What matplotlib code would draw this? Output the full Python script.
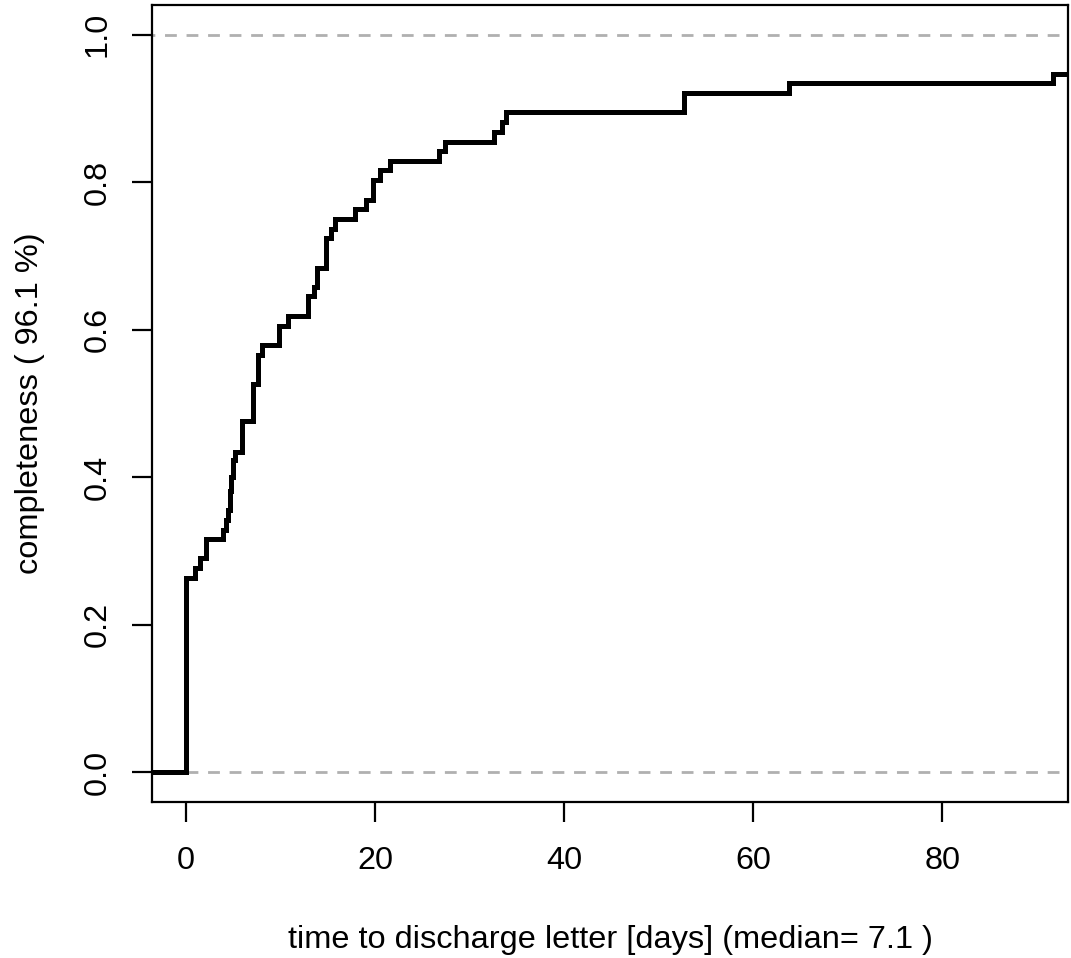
import matplotlib
matplotlib.use('Agg')
import matplotlib.pyplot as plt

# step times (days) and completeness level reached at each step
days = [0, 1.0, 1.5, 2.1, 3.9, 4.2, 4.4, 4.6, 4.8, 5.0, 5.2, 5.9, 7.1, 7.6, 8.0,
        9.8, 10.8, 12.9, 13.5, 13.9, 14.8, 15.3, 15.8, 17.9, 19.0, 19.8, 20.5,
        21.6, 26.8, 27.4, 32.6, 33.4, 33.9, 52.7, 63.8, 91.7]
completeness = [0.263, 0.277, 0.290, 0.316, 0.329, 0.342, 0.356, 0.382, 0.400,
                0.424, 0.434, 0.476, 0.526, 0.566, 0.579, 0.605, 0.618, 0.645,
                0.658, 0.684, 0.724, 0.737, 0.750, 0.763, 0.776, 0.803, 0.816,
                0.829, 0.842, 0.855, 0.868, 0.882, 0.895, 0.921, 0.934, 0.947]
x_ticks = [0, 20, 40, 60, 80]
y_ticks = [0.0, 0.2, 0.4, 0.6, 0.8, 1.0]
x_label = 'time to discharge letter [days] (median= 7.1 )'
y_label = 'completeness ( 96.1 %)'

plt.rcParams['font.family'] = ['Liberation Sans', 'DejaVu Sans']
plt.rcParams['lines.scale_dashes'] = False

fig = plt.figure(figsize=(10.71, 9.58), dpi=100)
ax = fig.add_axes([152/1071, 1-802/958, (1068-152)/1071, (802-5)/958])

xmin, xmax = -3.6, 93.3
# grey dashed reference lines at 0 and 1
for yv in (0.0, 1.0):
    ax.plot([xmin - 1, xmax + 1], [yv, yv], color='#b0b0b0', lw=2.0,
            dashes=(8.5, 7), zorder=1)

xs = [xmin - 1] + days + [xmax + 1]
ys = [0.0] + completeness + [completeness[-1]]
ax.step(xs, ys, where='post', color='black', lw=3.6, zorder=2,
        solid_joinstyle='miter')

ax.set_xlim(xmin, xmax)
ax.set_ylim(-0.04, 1.04)
ax.set_xticks(x_ticks)
ax.set_xticklabels([str(v) for v in x_ticks])
ax.set_yticks(y_ticks)
ax.set_yticklabels(['%.1f' % v for v in y_ticks], rotation=90, va='center')
ax.tick_params(axis='both', labelsize=23.3, length=14.4, width=1.6)
ax.tick_params(axis='x', pad=17)
ax.tick_params(axis='y', pad=14)
for s in ax.spines.values():
    s.set_linewidth(1.6)

ax.set_xlabel(x_label, fontsize=23.4)
ax.set_ylabel(y_label, fontsize=23.4)
ax.xaxis.set_label_coords(0.5, (802-940)/797)
ax.xaxis.label.set_va('center')
ax.yaxis.set_label_coords((30-152)/916, 0.5)
ax.yaxis.label.set_va('center')

fig.savefig('out.png', dpi=100)
